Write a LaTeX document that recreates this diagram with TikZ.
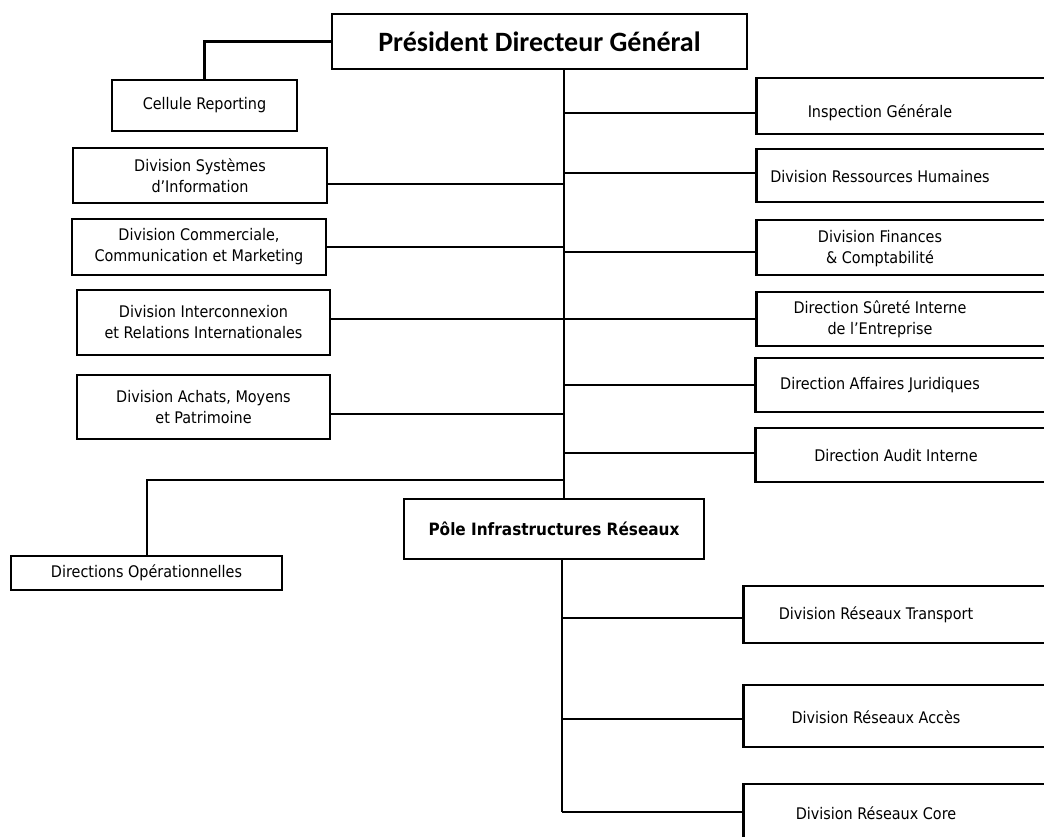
\documentclass[tikz,border=0pt]{standalone}
\usepackage{fontspec}
\setmainfont{DejaVu Sans Condensed}
\newfontfamily\headfont{Carlito}
\begin{document}
\begin{tikzpicture}[x=1pt,y=-1pt,
  box/.style={draw, line width=2.6pt, inner sep=0pt, align=center, font=\fontsize{16}{21}\selectfont},
  rbox/.style={draw, line width=2.6pt, inner sep=0pt, anchor=west, minimum width=330pt},
  lbl/.style={align=center, font=\fontsize{16}{21}\selectfont},
  conn/.style={line width=2pt}]
\useasboundingbox (0,0) rectangle (1044,837);
\clip (0,0) rectangle (1044,837);
% top
\node[box, minimum width=415pt, minimum height=55pt, font=\headfont\bfseries\fontsize{28}{32}\selectfont] (pdg) at (539.5,41.5) {Président Directeur Général};
% left boxes
\node[box, minimum width=185pt, minimum height=51pt] (cr) at (204.5,105.5) {Cellule Reporting};
\node[box, minimum width=254pt, minimum height=55pt] (dsi) at (200,175.5) {Division Systèmes\\d’Information};
\node[box, minimum width=254pt, minimum height=56pt] (dcc) at (199,247) {Division Commerciale,\\Communication et Marketing};
\node[box, minimum width=253pt, minimum height=65pt] (dir) at (203.5,322.5) {Division Interconnexion\\et Relations Internationales};
\node[box, minimum width=253pt, minimum height=64pt] (dam) at (203.5,407) {Division Achats, Moyens\\et Patrimoine};
\node[box, minimum width=271pt, minimum height=34pt] (do) at (146.5,573) {Directions Opérationnelles};
\node[box, minimum width=300pt, minimum height=60pt, font=\bfseries\fontsize{17}{21}\selectfont] (pole) at (554,529) {Pôle Infrastructures Réseaux};
% right boxes
\node[rbox, minimum height=56pt] (ig) at (755,106) {};
\node[rbox, minimum height=53pt] (rh) at (755,175.5) {};
\node[rbox, minimum height=55pt] (fc) at (755,247.5) {};
\node[rbox, minimum height=54pt] (si) at (755,319) {};
\node[rbox, minimum height=54pt] (aj) at (754,385) {};
\node[rbox, minimum height=54pt] (ai) at (754,455) {};
\node[rbox, minimum height=57pt] (rt) at (742,614.5) {};
\node[rbox, minimum height=62pt] (ra) at (742,716) {};
\node[rbox, minimum height=66pt] (rc) at (742,817) {};
% right labels
\node[lbl] (ig-t) at (880,113) {Inspection Générale};
\node[lbl] (rh-t) at (880,177) {Division Ressources Humaines};
\node[lbl] (fc-t) at (880,249) {Division Finances\\\& Comptabilité};
\node[lbl] (si-t) at (880,319) {Direction Sûreté Interne\\de l’Entreprise};
\node[lbl] (aj-t) at (880,385) {Direction Affaires Juridiques};
\node[lbl] (ai-t) at (896,456) {Direction Audit Interne};
\node[lbl] (rt-t) at (876,615) {Division Réseaux Transport};
\node[lbl] (ra-t) at (876,717) {Division Réseaux Accès};
\node[lbl] (rc-t) at (876,813) {Division Réseaux Core};
% trunks
\coordinate (T) at (564,0);
\coordinate (T2) at (562,0);
\coordinate (J) at (564,480);
\draw[conn] (pdg.south -| T) -- (pole.north -| T);
\draw[conn] (pole.south -| T2) -- ([yshift=5pt]rc.west -| T2);
% reporting
\draw[line width=2.6pt] (pdg.west) -| (cr.north);
% left connectors
\draw[conn] ([yshift=-8.5pt]dsi.east) -- ([yshift=-8.5pt]dsi.east -| T);
\draw[conn] (dcc.east) -- (dcc.east -| T);
\draw[conn] ([yshift=3.5pt]dir.east) -- ([yshift=3.5pt]dir.east -| T);
\draw[conn] ([yshift=-7pt]dam.east) -- ([yshift=-7pt]dam.east -| T);
\draw[conn] (J) -| (do.north);
% right connectors
\draw[conn] ([yshift=-7pt]ig.west -| T) -- ([yshift=-7pt]ig.west);
\draw[conn] ([yshift=2.5pt]rh.west -| T) -- ([yshift=2.5pt]rh.west);
\draw[conn] ([yshift=-4.5pt]fc.west -| T) -- ([yshift=-4.5pt]fc.west);
\draw[conn] (si.west -| T) -- (si.west);
\draw[conn] (aj.west -| T) -- (aj.west);
\draw[conn] ([yshift=2pt]ai.west -| T) -- ([yshift=2pt]ai.west);
\draw[conn] ([yshift=-3.5pt]rt.west -| T2) -- ([yshift=-3.5pt]rt.west);
\draw[conn] ([yshift=-3pt]ra.west -| T2) -- ([yshift=-3pt]ra.west);
\draw[conn] ([yshift=5pt]rc.west -| T2) -- ([yshift=5pt]rc.west);
\end{tikzpicture}
\end{document}
